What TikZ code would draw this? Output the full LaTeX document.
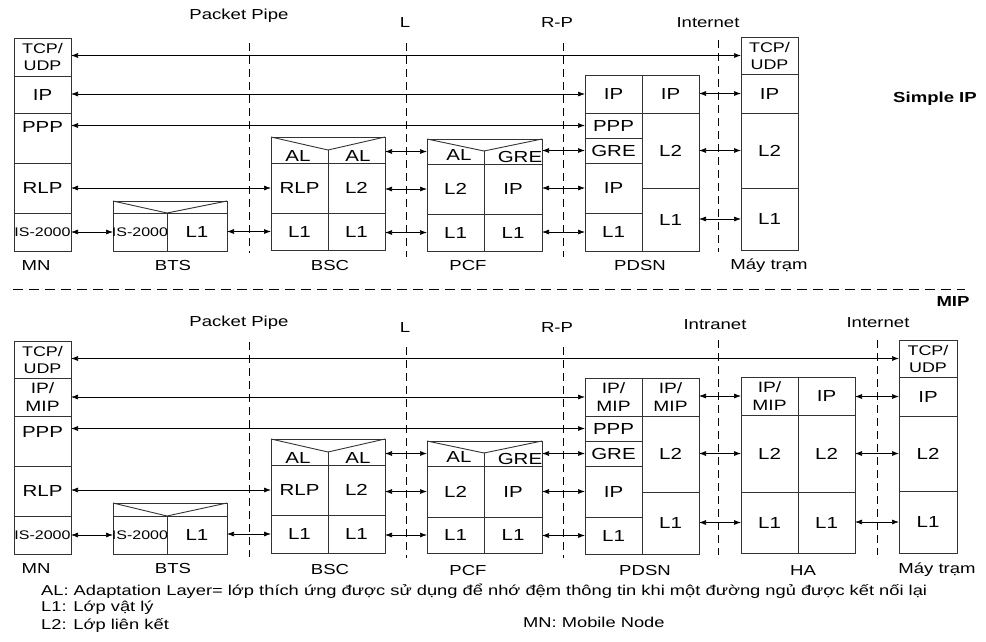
\documentclass[tikz,border=0pt]{standalone}
\usepackage{fontspec}
\setmainfont{Liberation Sans}[FakeStretch=1.28]
\usetikzlibrary{arrows.meta}

\newcommand{\lbl}{\fontsize{16}{18}\selectfont}
\newcommand{\sml}{\fontsize{14}{17}\selectfont}
\newcommand{\midf}{\fontsize{15}{18}\selectfont}
\newcommand{\isf}{\fontsize{12.5}{15}\selectfont}
\newcommand{\tagf}{\fontsize{14.5}{17}\selectfont}
\newcommand{\keyf}{\fontsize{14.3}{17}\selectfont}
% one cell of a protocol stack: [style]{name}{x1}{y1}{x2}{y2}{text}
\newcommand{\cell}[7][]{\node[cell,#1,minimum width={#5-#3},minimum height={#6-#4}] (#2) at ({(#3+#5)/2},{(#4+#6)/2}) {#7};}
% text that may run over the cell border
\newcommand{\wide}[1]{\makebox[0pt]{#1}}

\begin{document}
\begin{tikzpicture}[x=1pt,y=-1pt,
  cell/.style={draw=black!80,line width=0.9pt,inner sep=0pt,outer sep=0pt,font=\lbl,align=center},
  txt/.style={inner sep=0pt,font=\lbl},
  vline/.style={draw=black!80,line width=0.9pt},
  link/.style={{Latex[length=7pt,width=5pt]}-{Latex[length=7pt,width=5pt]},line width=0.7pt},
  sep/.style={dash pattern=on 8pt off 5pt,line width=0.8pt},
  tag/.style={inner sep=0pt,font=\tagf},
  head/.style={inner sep=0pt,font=\tagf\bfseries}]
  \useasboundingbox (0,0) rectangle (986,641);

  % ---------- Simple IP ----------
  \node[tag] (hPipe) at (239,16) {Packet Pipe};
  \node[tag] (hL) at (405,23) {L};
  \node[tag] (hRP) at (557,23) {R-P};
  \node[tag] (hNet) at (708,23) {Internet};
  \node[head] (simple) at (935,99) {Simple IP};
  \draw[sep] (249,43)--(249,253);
  \draw[sep] (406,43)--(406,257);
  \draw[sep] (563,43)--(563,257);
  \draw[sep] (718,40)--(718,252);

  % MN
  \cell[font=\sml]{mnTCP}{14}{38}{71}{76}{TCP/\\UDP}
  \cell{mnIP}{14}{76}{71}{113}{IP}
  \cell{mnPPP}{14}{113}{71}{163}{}
  \node[txt] (mnPPPt) at (42.5,127) {PPP};
  \cell{mnRLP}{14}{163}{71}{213}{RLP}
  \cell[font=\isf]{mnIS}{14}{213}{71}{251}{\wide{IS-2000}}
  % BTS
  \cell{btsTop}{113}{201}{227}{213}{}
  \draw[vline] (btsTop.north west)--(167,213)--(btsTop.north east);
  \cell[font=\isf]{btsIS}{113}{213}{167}{251}{\wide{IS-2000}}
  \cell{btsL1}{167}{213}{227}{251}{L1}
  % BSC
  \cell{bscAL}{271}{137}{385}{163}{}
  \draw[vline] (bscAL.north west)--(328,150)--(bscAL.north east);
  \draw[vline] (328,150)--(328,163);
  \node[txt] (bscALa) at (298,156) {AL};
  \node[txt] (bscALb) at (358,156) {AL};
  \cell{bscRLP}{271}{163}{328}{213}{RLP}
  \cell{bscL2}{328}{163}{385}{213}{L2}
  \cell{bscL1}{271}{213}{328}{250}{L1}
  \cell{bscL1b}{328}{213}{385}{250}{L1}
  % PCF
  \cell{pcfAL}{427}{139}{542}{164}{}
  \draw[vline] (pcfAL.north west)--(484,151)--(pcfAL.north east);
  \draw[vline] (484,151)--(484,164);
  \node[txt] (pcfALa) at (459,155) {AL};
  \node[txt] (pcfGRE) at (520,157) {GRE};
  \cell{pcfL2}{427}{164}{484}{214}{L2}
  \cell{pcfIP}{484}{164}{542}{214}{IP}
  \cell{pcfL1}{427}{214}{484}{251}{L1}
  \cell{pcfL1b}{484}{214}{542}{251}{L1}
  % PDSN
  \cell{pdsnIP}{585}{75}{642}{113}{IP}
  \cell{pdsnPPP}{585}{113}{642}{138}{PPP}
  \cell{pdsnGRE}{585}{138}{642}{163}{GRE}
  \cell{pdsnIPb}{585}{163}{642}{213}{IP}
  \cell{pdsnL1}{585}{213}{642}{251}{L1}
  \cell{pdsnIPr}{642}{75}{699}{113}{IP}
  \cell{pdsnL2r}{642}{113}{699}{188}{L2}
  \cell{pdsnL1r}{642}{188}{699}{251}{L1}
  % May tram
  \cell[font=\sml]{mtTCP}{741}{37}{798}{74}{TCP/\\UDP}
  \cell{mtIP}{741}{74}{798}{113}{IP}
  \cell{mtL2}{741}{113}{798}{188}{L2}
  \cell{mtL1}{741}{188}{798}{250}{L1}

  \draw[link] (mnTCP.east |- mtTCP.west)--(mtTCP.west);
  \draw[link] (mnIP.east |- pdsnIP.west)--(pdsnIP.west);
  \draw[link] (mnPPP.east |- pdsnPPP.west)--(pdsnPPP.west);
  \draw[link] (mnRLP.east |- bscRLP.west)--(bscRLP.west);
  \draw[link] (mnIS.east |- btsIS.west)--(btsIS.west);
  \draw[link] (btsL1.east |- bscL1.west)--(bscL1.west);
  \draw[link] (bscAL.east |- pcfAL.west)--(pcfAL.west);
  \draw[link] (bscL2.east |- pcfL2.west)--(pcfL2.west);
  \draw[link] (bscL1b.east |- pcfL1.west)--(pcfL1.west);
  \draw[link] (pcfAL.east |- pdsnGRE.west)--(pdsnGRE.west);
  \draw[link] (pcfIP.east |- pdsnIPb.west)--(pdsnIPb.west);
  \draw[link] (pcfL1b.east |- pdsnL1.west)--(pdsnL1.west);
  \draw[link] (pdsnIPr.east |- mtIP.west)--(mtIP.west);
  \draw[link] (pdsnL2r.east |- mtL2.west)--(mtL2.west);
  \draw[link] (pdsnL1r.east |- mtL1.west)--(mtL1.west);

  \node[tag] (nMN) at (36,266) {MN};
  \node[tag] (nBTS) at (173,266) {BTS};
  \node[tag] (nBSC) at (330,266) {BSC};
  \node[tag] (nPCF) at (468,266) {PCF};
  \node[tag] (nPDSN) at (640,266) {PDSN};
  \node[tag] (nMT) at (769,266) {Máy trạm};

  \draw[dash pattern=on 10pt off 6pt,line width=0.8pt] (13,289)--(965,289);

  % ---------- MIP ----------
  \node[head] (mip) at (953,302) {MIP};
  \node[tag] (hPipe2) at (239,323) {Packet Pipe};
  \node[tag] (hL2) at (405,328) {L};
  \node[tag] (hRP2) at (557,328) {R-P};
  \node[tag] (hIntra) at (715,325) {Intranet};
  \node[tag] (hNet2) at (878,323) {Internet};
  \draw[sep] (249,342)--(249,557);
  \draw[sep] (406,347)--(406,558);
  \draw[sep] (563,347)--(563,558);
  \draw[sep] (718,340)--(718,555);
  \draw[sep] (877,340)--(877,555);

  % MN
  \cell[font=\sml]{mnTCP2}{14}{341}{71}{378}{TCP/\\UDP}
  \cell[font=\midf]{mnIP2}{14}{378}{71}{416}{IP/\\MIP}
  \cell{mnPPP2}{14}{416}{71}{466}{}
  \node[txt] (mnPPPt2) at (42.5,432) {PPP};
  \cell{mnRLP2}{14}{466}{71}{516}{RLP}
  \cell[font=\isf]{mnIS2}{14}{516}{71}{554}{\wide{IS-2000}}
  % BTS
  \cell{btsTop2}{113}{503}{227}{516}{}
  \draw[vline] (btsTop2.north west)--(167,516)--(btsTop2.north east);
  \cell[font=\isf]{btsIS2}{113}{516}{167}{554}{\wide{IS-2000}}
  \cell{btsL12}{167}{516}{227}{554}{L1}
  % BSC
  \cell{bscAL2}{271}{439}{385}{465}{}
  \draw[vline] (bscAL2.north west)--(328,452)--(bscAL2.north east);
  \draw[vline] (328,452)--(328,465);
  \node[txt] (bscALa2) at (298,458) {AL};
  \node[txt] (bscALb2) at (358,458) {AL};
  \cell{bscRLP2}{271}{465}{328}{515}{RLP}
  \cell{bscL22}{328}{465}{385}{515}{L2}
  \cell{bscL12}{271}{515}{328}{553}{L1}
  \cell{bscL1b2}{328}{515}{385}{553}{L1}
  % PCF
  \cell{pcfAL2}{427}{441}{542}{466}{}
  \draw[vline] (pcfAL2.north west)--(484,453)--(pcfAL2.north east);
  \draw[vline] (484,453)--(484,466);
  \node[txt] (pcfALa2) at (459,457) {AL};
  \node[txt] (pcfGRE2) at (520,459) {GRE};
  \cell{pcfL22}{427}{466}{484}{517}{L2}
  \cell{pcfIP2}{484}{466}{542}{517}{IP}
  \cell{pcfL12}{427}{517}{484}{553}{L1}
  \cell{pcfL1b2}{484}{517}{542}{553}{L1}
  % PDSN
  \cell[font=\midf]{pdsnIP2}{585}{378}{642}{416}{IP/\\MIP}
  \cell{pdsnPPP2}{585}{416}{642}{441}{PPP}
  \cell{pdsnGRE2}{585}{441}{642}{466}{GRE}
  \cell{pdsnIPb2}{585}{466}{642}{517}{IP}
  \cell{pdsnL12}{585}{517}{642}{554}{L1}
  \cell[font=\midf]{pdsnIPr2}{642}{378}{699}{416}{IP/\\MIP}
  \cell{pdsnL2r2}{642}{416}{699}{492}{L2}
  \cell{pdsnL1r2}{642}{492}{699}{554}{L1}
  % HA
  \cell[font=\midf]{haIP}{741}{377}{798}{415}{IP/\\MIP}
  \cell{haIPr}{798}{377}{855}{415}{IP}
  \cell{haL2}{741}{415}{798}{492}{L2}
  \cell{haL2r}{798}{415}{855}{492}{L2}
  \cell{haL1}{741}{492}{798}{553}{L1}
  \cell{haL1r}{798}{492}{855}{553}{L1}
  % May tram
  \cell[font=\sml]{mtTCP2}{899}{340}{957}{377}{TCP/\\UDP}
  \cell{mtIP2}{899}{377}{957}{416}{IP}
  \cell{mtL22}{899}{416}{957}{491}{L2}
  \cell{mtL12}{899}{491}{957}{553}{L1}

  \draw[link] (mnTCP2.east |- mtTCP2.west)--(mtTCP2.west);
  \draw[link] (mnIP2.east |- pdsnIP2.west)--(pdsnIP2.west);
  \draw[link] (mnPPP2.east |- pdsnPPP2.west)--(pdsnPPP2.west);
  \draw[link] (mnRLP2.east |- bscRLP2.west)--(bscRLP2.west);
  \draw[link] (mnIS2.east |- btsIS2.west)--(btsIS2.west);
  \draw[link] (btsL12.east |- bscL12.west)--(bscL12.west);
  \draw[link] (bscAL2.east |- pcfAL2.west)--(pcfAL2.west);
  \draw[link] (bscL22.east |- pcfL22.west)--(pcfL22.west);
  \draw[link] (bscL1b2.east |- pcfL12.west)--(pcfL12.west);
  \draw[link] (pcfAL2.east |- pdsnGRE2.west)--(pdsnGRE2.west);
  \draw[link] (pcfIP2.east |- pdsnIPb2.west)--(pdsnIPb2.west);
  \draw[link] (pcfL1b2.east |- pdsnL12.west)--(pdsnL12.west);
  \draw[link] (pdsnIPr2.east |- haIP.west)--(haIP.west);
  \draw[link] (pdsnL2r2.east |- haL2.west)--(haL2.west);
  \draw[link] (pdsnL1r2.east |- haL1.west)--(haL1.west);
  \draw[link] (haIPr.east |- mtIP2.west)--(mtIP2.west);
  \draw[link] (haL2r.east |- mtL22.west)--(mtL22.west);
  \draw[link] (haL1r.east |- mtL12.west)--(mtL12.west);

  \node[tag] (nMN2) at (36,569) {MN};
  \node[tag] (nBTS2) at (173,568) {BTS};
  \node[tag] (nBSC2) at (330,569) {BSC};
  \node[tag] (nPCF2) at (468,570) {PCF};
  \node[tag] (nPDSN2) at (645,570) {PDSN};
  \node[tag] (nHA) at (803,571) {HA};
  \node[tag] (nMT2) at (937,570) {Máy trạm};

  % legend
  \node[tag,font=\keyf,anchor=west] (keyAL) at (41,591) {AL: Adaptation Layer= lớp thích ứng được sử dụng để nhớ đệm thông tin khi một đường ngủ được kết nối lại};
  \node[tag,font=\keyf,anchor=west] (keyL1) at (41,608) {L1: Lớp vật lý};
  \node[tag,font=\keyf,anchor=west] (keyL2) at (41,625) {L2: Lớp liên kết};
  \node[tag,font=\keyf,anchor=west] (keyMN) at (523,622) {MN: Mobile Node};
\end{tikzpicture}
\end{document}
